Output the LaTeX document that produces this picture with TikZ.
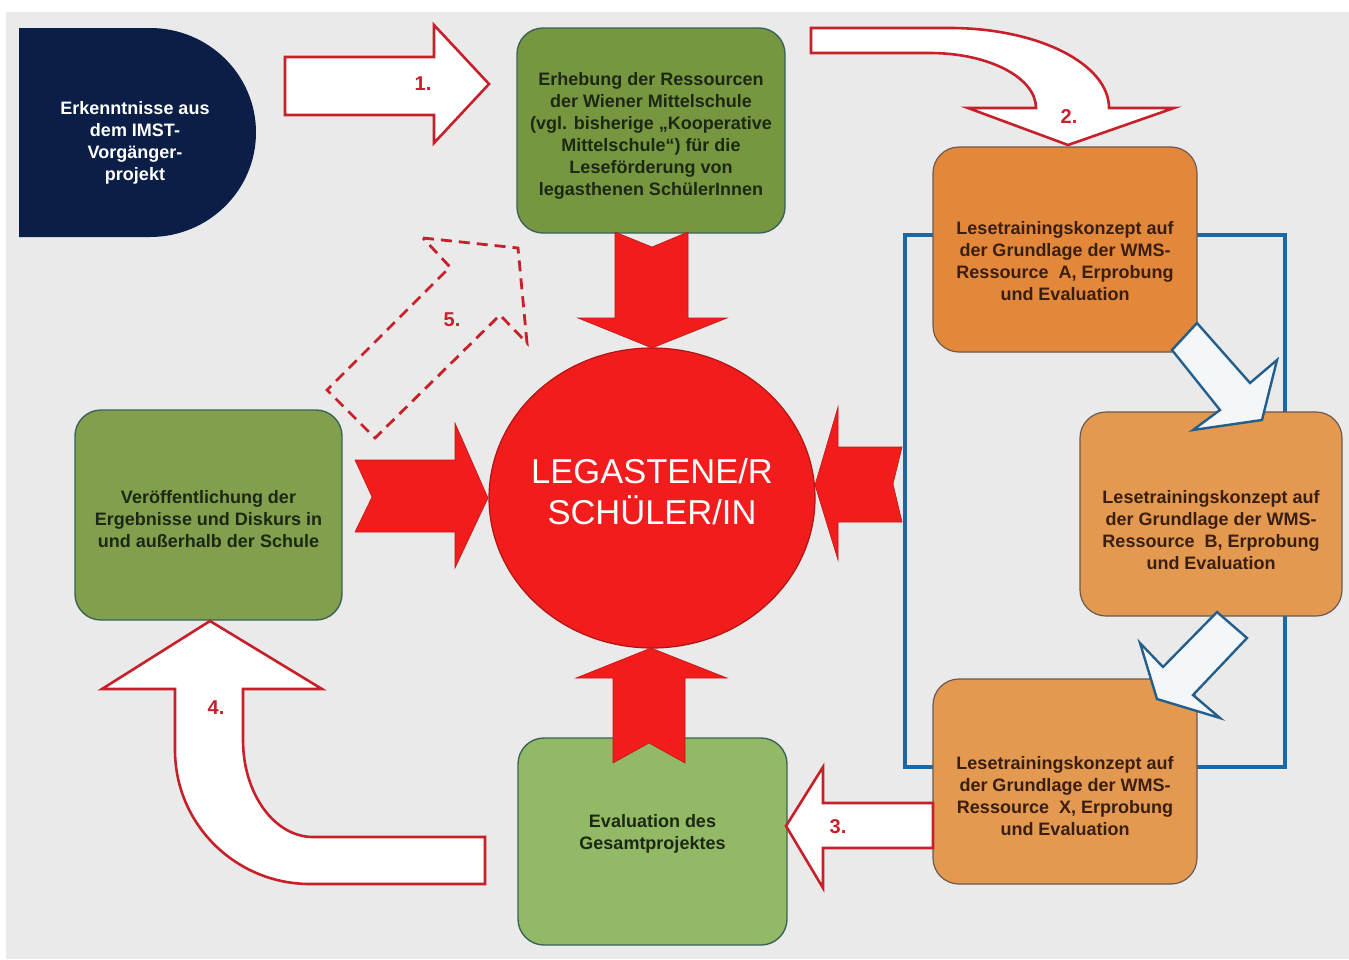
\documentclass[tikz,border=0pt]{standalone}
\usepackage{fontspec}
\setmainfont{Liberation Sans}
\usetikzlibrary{shapes.geometric}
\definecolor{bgc}{HTML}{EAEAEA}
\definecolor{navy}{HTML}{0B1E47}
\definecolor{greenA}{HTML}{76973F}
\definecolor{greenB}{HTML}{819F4C}
\definecolor{greenC}{HTML}{92BA66}
\definecolor{greenedge}{HTML}{3A6458}
\definecolor{orangeA}{HTML}{E3873A}
\definecolor{orangeB}{HTML}{E3994F}
\definecolor{orangeedge}{HTML}{6A5A50}
\definecolor{bigred}{HTML}{F21C1C}
\definecolor{redge}{HTML}{B01414}
\definecolor{outred}{HTML}{C8202A}
\definecolor{blueline}{HTML}{1B68A4}
\definecolor{bluearrow}{HTML}{245F8C}
\definecolor{bluefill}{HTML}{F3F7FA}
\definecolor{gtext}{HTML}{1C2814}
\definecolor{otext}{HTML}{3A1E10}
\begin{document}
\begin{tikzpicture}[x=1pt,y=-1pt,
  box/.style={rectangle, rounded corners=26pt, draw=greenedge, line width=1.4pt, inner sep=0pt},
  obox/.style={box, draw=orangeedge, line width=1.2pt},
  boxtext/.style={align=center, font=\bfseries\fontsize{18}{22}\selectfont, inner sep=0pt},
  hollow/.style={draw=outred, fill=white, line width=2.6pt, line join=miter},
  solidred/.style={fill=bigred, draw=bigred!80!black, line width=0.6pt},
  bluearr/.style={draw=bluearrow, fill=bluefill, line width=2.4pt, line join=miter},
  steplabel/.style={text=outred, font=\bfseries\fontsize{20}{22}\selectfont, inner sep=0pt}]
\useasboundingbox (0,0) rectangle (1349,959);
\fill[white] (0,0) rectangle (1349,959);
\fill[bgc] (6,12) rectangle (1349,959);

% blue frame around the three training boxes
\draw[blueline, line width=3.6pt] (905,235) rectangle (1285,767);

% navy D-shape
\fill[navy] (19,28) -- (150,28) arc[start angle=-90, end angle=90, x radius=106, y radius=104.5] -- (19,237) -- cycle;
\node[boxtext, text=white] (imst) at (135,143) {Erkenntnisse aus\\dem IMST-\\Vorgänger-\\projekt};

% boxes
\node[box, fill=greenA, minimum width=268pt, minimum height=205pt] (erh) at (651,130.5) {};
\node[boxtext, text=gtext] (erht) at (651,136) {Erhebung der Ressourcen\\der Wiener Mittelschule\\(vgl. bisherige „Kooperative\\Mittelschule“) für die\\Leseförderung von\\legasthenen SchülerInnen};

\node[obox, fill=orangeA, minimum width=264pt, minimum height=205pt] (resA) at (1065,249.5) {};
\node[boxtext, text=otext] (resAt) at (1065,261) {Lesetrainingskonzept auf\\der Grundlage der WMS-\\Ressource~ A, Erprobung\\und Evaluation};

\node[obox, fill=orangeB, minimum width=262pt, minimum height=204pt] (resB) at (1211,514) {};
\node[boxtext, text=otext] (resBt) at (1211,530) {Lesetrainingskonzept auf\\der Grundlage der WMS-\\Ressource~ B, Erprobung\\und Evaluation};

\node[obox, fill=orangeB, minimum width=264pt, minimum height=205pt] (resX) at (1065,781.5) {};
\node[boxtext, text=otext] (resXt) at (1065,796) {Lesetrainingskonzept auf\\der Grundlage der WMS-\\Ressource~ X, Erprobung\\und Evaluation};

\node[box, fill=greenB, minimum width=267pt, minimum height=210pt] (pub) at (208.5,515) {};
\node[boxtext, text=gtext] (pubt) at (208.5,519) {Veröffentlichung der\\Ergebnisse und Diskurs in\\und außerhalb der Schule};

\node[box, fill=greenC, minimum width=269pt, minimum height=207pt] (eval) at (652.5,841.5) {};
\node[boxtext, text=gtext] (evalt) at (652.5,833.5) {Evaluation des\\Gesamtprojektes};

% central circle
\node[ellipse, fill=bigred, draw=redge, line width=1.2pt, minimum width=326pt, minimum height=300pt, inner sep=0pt] (kid) at (652,498) {};
\node[align=center, text=white, font=\fontsize{34.5}{41}\selectfont, inner sep=0pt] (kidt) at (652,491.5) {LEGASTENE/R\\SCHÜLER/IN};

% solid red arrows into the circle
\draw[solidred] (615,232) -- (652,247) -- (688,232) -- (688,318) -- (727,318) -- (652,348) -- (578,318) -- (615,318) -- cycle;
\draw[solidred] (355,460) -- (455,460) -- (455,423) -- (488,498) -- (455,568) -- (455,532) -- (355,532) -- (372,497) -- cycle;
\draw[solidred] (902,447) -- (838,447) -- (838,407) -- (815,485) -- (838,560) -- (838,522) -- (902,522) -- (893,484) -- cycle;
\draw[solidred] (651,648) -- (727,678) -- (685,678) -- (685,763) -- (649,743) -- (613,763) -- (613,678) -- (576,678) -- cycle;

% step 1
\draw[hollow] (285,57) -- (434,57) -- (434,25) -- (489,84) -- (434,143) -- (434,115) -- (285,115) -- cycle;
\node[steplabel] (l1) at (423,84) {1.};

% step 2 (curved)
\draw[hollow] (811,28) -- (950,28) arc[start angle=-90, end angle=0, x radius=159, y radius=80]
  -- (1174,108) -- (1068,145) -- (968,108) -- (1036,108)
  arc[start angle=0, end angle=-90, x radius=106, y radius=55] -- (811,53) -- cycle;
\node[steplabel] (l2) at (1069,117) {2.};

% blue arrows between training boxes
\draw[bluearr] (1172,350) -- (1197,323) -- (1250,383) -- (1277,360) -- (1262,420) -- (1193,430) -- (1220,410) -- cycle;
\draw[bluearr] (1217,612) -- (1247,638) -- (1193,695) -- (1220,718) -- (1157,699) -- (1140,643) -- (1163,667) -- cycle;

% step 3
\draw[hollow] (786,826) -- (823,767) -- (823,803) -- (933,803) -- (933,848) -- (823,848) -- (823,888) -- cycle;
\node[steplabel] (l3) at (838,827) {3.};

% step 4 (U-turn)
\draw[hollow] (210,621) -- (322,689) -- (243,689) -- (243,740)
  arc[start angle=180, end angle=90, x radius=70, y radius=97] -- (485,837) -- (485,884) -- (310,884)
  arc[start angle=90, end angle=180, x radius=135, y radius=134] -- (175,689) -- (102,689) -- cycle;
\node[steplabel] (l4) at (216,708) {4.};

% step 5 (dashed)
\draw[outred, line width=2.8pt, dash pattern=on 11pt off 7pt, line join=miter] (423,238) -- (518,248) -- (527,343) -- (500,315) -- (375,438) -- (327,390) -- (450,267) -- cycle;
\node[steplabel] (l5) at (452,320) {5.};
\end{tikzpicture}
\end{document}
